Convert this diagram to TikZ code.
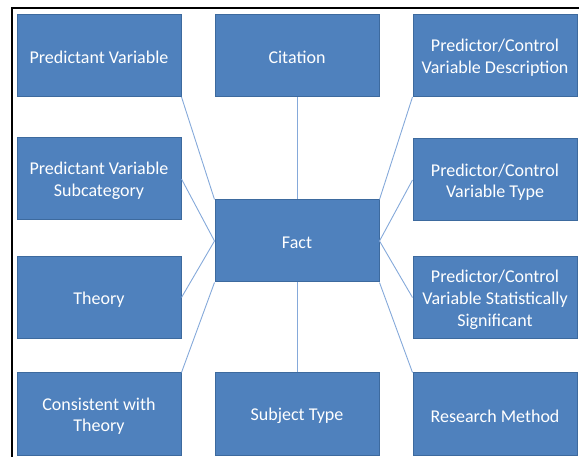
\documentclass[tikz,border=0pt]{standalone}
\usepackage{fontspec}
\setmainfont{Carlito}
\definecolor{boxfill}{HTML}{4F81BD}
\definecolor{boxline}{HTML}{3D6A9E}
\definecolor{linkcol}{HTML}{85A9DA}
\begin{document}
\begin{tikzpicture}[x=1pt,y=-1pt,
  box/.style={draw=boxline,fill=boxfill,line width=1pt,
    minimum width=164pt,minimum height=82pt,inner sep=0pt,
    label={[boxtext]center:#1}},
  boxtext/.style={text=white,align=center,inner sep=0pt,yshift=-2.2pt,
    font=\fontsize{18}{21.8}\selectfont},
  link/.style={draw=linkcol,line width=0.9pt}]
\useasboundingbox (0,0) rectangle (579,457);
\draw[line width=2pt] (12,457) -- (12,8) -- (579,8);
\node[box={Predictant Variable}] (pv) at (99,55.5) {};
\node[box={Citation}] (cit) at (297,55.5) {};
\node[box={Predictor/Control\\Variable Description}] (pcd) at (495,55.5) {};
\node[box={Predictant Variable\\Subcategory}] (pvs) at (99,179) {};
\node[box={Predictor/Control\\Variable Type}] (pct) at (495,180) {};
\node[box={Fact}] (fact) at (297,241) {};
\node[box={Theory}] (th) at (99,297.5) {};
\node[box={Predictor/Control\\Variable Statistically\\Significant}] (pss) at (495,297.5) {};
\node[box={Consistent with\\Theory}] (cwt) at (99,414) {};
\node[box={Subject Type}] (st) at (297,414) {};
\node[box={Research Method}] (rm) at (495,414) {};
\draw[link] (pv.south east) -- (fact.north west);
\draw[link] (cit.south) -- (fact.north);
\draw[link] (pcd.south west) -- (fact.north east);
\draw[link] (pvs.east) -- (fact.west);
\draw[link] (th.east) -- (fact.west);
\draw[link] (pct.west) -- (fact.east);
\draw[link] (pss.west) -- (fact.east);
\draw[link] (cwt.north east) -- (fact.south west);
\draw[link] (st.north) -- (fact.south);
\draw[link] (rm.north west) -- (fact.south east);
\end{tikzpicture}
\end{document}
